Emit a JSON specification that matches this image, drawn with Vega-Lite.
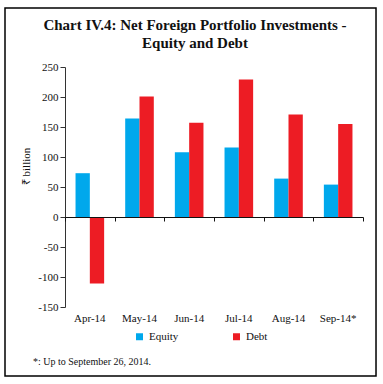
{
  "$schema": "https://vega.github.io/schema/vega-lite/v6.json",
  "width": 298,
  "height": 240,
  "autosize": {"type": "none"},
  "padding": {"left": 65, "top": 67, "right": 20, "bottom": 77},
  "background": "white",
  "config": {
    "font": "Liberation Serif",
    "view": {"stroke": null},
    "axis": {"labelFont": "Liberation Serif", "titleFont": "Liberation Serif", "grid": false},
    "axisY": {"labelOverlap": false, "labelExpr": "toString(datum.value)", "domainColor": "#333333", "tickColor": "#333333", "tickSize": 5, "labelColor": "#111111", "labelFontSize": 11, "labelPadding": 2, "titleFontSize": 11, "titleFontWeight": "normal", "titleColor": "#111111", "titleY": 99, "titlePadding": 6},
    "legend": {"labelFont": "Liberation Serif"}
  },
  "data": {
    "values": [
      {"month": "Apr-14", "series": "Equity", "value": 73},
      {"month": "Apr-14", "series": "Debt", "value": -111},
      {"month": "May-14", "series": "Equity", "value": 164},
      {"month": "May-14", "series": "Debt", "value": 201},
      {"month": "Jun-14", "series": "Equity", "value": 108},
      {"month": "Jun-14", "series": "Debt", "value": 157},
      {"month": "Jul-14", "series": "Equity", "value": 116},
      {"month": "Jul-14", "series": "Debt", "value": 229},
      {"month": "Aug-14", "series": "Equity", "value": 64},
      {"month": "Aug-14", "series": "Debt", "value": 171},
      {"month": "Sep-14*", "series": "Equity", "value": 54},
      {"month": "Sep-14*", "series": "Debt", "value": 155}
    ]
  },
  "resolve": {"scale": {"x": "independent"}},
  "layer": [
    {
      "mark": {"type": "bar"},
      "encoding": {
        "x": {
          "field": "month", "type": "nominal", "sort": null,
          "scale": {"paddingInner": 0.424, "paddingOuter": 0.212},
          "axis": {"orient": "bottom", "title": null, "domain": false, "ticks": false, "labelAngle": 0, "labelFontSize": 11, "labelColor": "#111111", "labelPadding": 5}
        },
        "xOffset": {"field": "series", "type": "nominal", "sort": ["Equity", "Debt"], "scale": {"paddingInner": 0, "paddingOuter": 0}},
        "y": {
          "field": "value", "type": "quantitative",
          "scale": {"domain": [-150, 250], "nice": false, "zero": false},
          "axis": {"values": [-150, -100, -50, 0, 50, 100, 150, 200, 250], "title": "₹ billion"}
        },
        "color": {
          "field": "series", "type": "nominal",
          "scale": {"domain": ["Equity", "Debt"], "range": ["#00A8EC", "#ED1C24"]},
          "legend": {
            "orient": "none", "legendX": 69, "legendY": 264, "direction": "horizontal",
            "title": null, "symbolType": "square", "symbolSize": 49, "symbolStrokeWidth": 0,
            "labelFontSize": 11, "labelColor": "#111111", "columnPadding": 52, "labelOffset": 4
          }
        }
      }
    },
    {
      "data": {"values": [{}]},
      "mark": {"type": "rect", "fillOpacity": 0, "stroke": "black", "strokeWidth": 1.5},
      "encoding": {
        "x": {"datum": -1.208, "type": "quantitative", "scale": {"domain": [0, 6], "nice": false, "zero": false},
          "axis": {"orient": "bottom", "offset": -90, "values": [0, 1, 2, 3, 4, 5, 6], "labels": false, "title": null, "domainColor": "#111111", "tickColor": "#111111", "tickSize": 4, "zindex": 1}},
        "x2": {"datum": 6.262},
        "y": {"datum": 348.3, "type": "quantitative", "axis": {"values": [-150, -100, -50, 0, 50, 100, 150, 200, 250], "title": "₹ billion"}},
        "y2": {"datum": -265}
      }
    },
    {
      "data": {"values": [{}]},
      "mark": {"type": "text", "align": "left", "baseline": "middle", "fontSize": 10, "font": "Liberation Serif", "color": "#111111"},
      "encoding": {
        "x": {"datum": -0.644, "type": "quantitative", "scale": {"domain": [0, 6], "nice": false, "zero": false}, "axis": null},
        "y": {"datum": -241.7, "type": "quantitative", "axis": {"values": [-150, -100, -50, 0, 50, 100, 150, 200, 250], "title": "₹ billion"}},
        "text": {"value": "*: Up to September 26, 2014."}
      }
    },
    {
      "data": {"values": [{}]},
      "mark": {"type": "text", "align": "center", "baseline": "alphabetic", "fontSize": 15, "fontWeight": "bold", "font": "Liberation Serif", "color": "#111111"},
      "encoding": {
        "x": {"datum": 2.617, "type": "quantitative", "scale": {"domain": [0, 6], "nice": false, "zero": false}, "axis": null},
        "y": {"datum": 311.7, "type": "quantitative", "axis": {"values": [-150, -100, -50, 0, 50, 100, 150, 200, 250], "title": "₹ billion"}},
        "text": {"value": "Chart IV.4: Net Foreign Portfolio Investments -"}
      }
    },
    {
      "data": {"values": [{}]},
      "mark": {"type": "text", "align": "center", "baseline": "alphabetic", "fontSize": 15, "fontWeight": "bold", "font": "Liberation Serif", "color": "#111111"},
      "encoding": {
        "x": {"datum": 2.617, "type": "quantitative", "scale": {"domain": [0, 6], "nice": false, "zero": false}, "axis": null},
        "y": {"datum": 281.7, "type": "quantitative", "axis": {"values": [-150, -100, -50, 0, 50, 100, 150, 200, 250], "title": "₹ billion"}},
        "text": {"value": "Equity and Debt"}
      }
    }
  ]
}
